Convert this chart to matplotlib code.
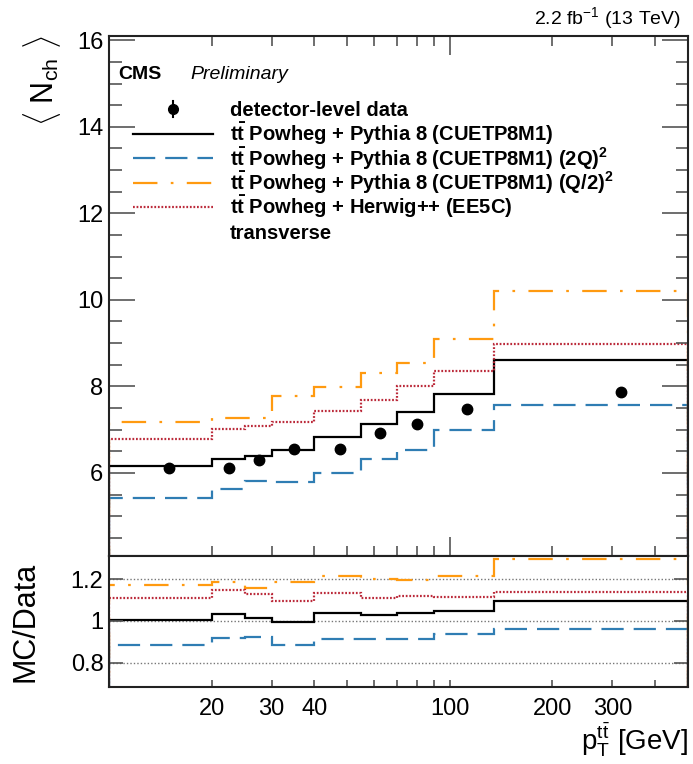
import numpy as np
import matplotlib.pyplot as plt
from matplotlib.ticker import FixedLocator, NullFormatter

plt.rcParams['font.family'] = ['Liberation Sans', 'DejaVu Sans']
plt.rcParams['mathtext.fontset'] = 'custom'
plt.rcParams['mathtext.rm'] = 'Liberation Sans'
plt.rcParams['mathtext.it'] = 'Liberation Sans:italic'
plt.rcParams['mathtext.bf'] = 'Liberation Sans:bold'

# bin edges in pT(ttbar) [GeV]
edges = [10, 20, 25, 30, 40, 55, 70, 90, 135, 500]

# <N_ch> in the transverse region
data = [6.12, 6.12, 6.29, 6.55, 6.56, 6.93, 7.14, 7.48, 7.88]
data_err = [0.03, 0.03, 0.03, 0.03, 0.03, 0.03, 0.03, 0.03, 0.03]
pythia = [6.15, 6.33, 6.39, 6.53, 6.82, 7.12, 7.40, 7.82, 8.62]
pythia_2q = [5.42, 5.63, 5.82, 5.80, 6.00, 6.32, 6.52, 7.00, 7.56]
pythia_q2 = [7.17, 7.27, 7.28, 7.78, 7.98, 8.31, 8.55, 9.10, 10.20]
herwig = [6.78, 7.02, 7.09, 7.17, 7.42, 7.68, 8.00, 8.35, 8.98]

edges = np.array(edges)
centers = 0.5 * (edges[:-1] + edges[1:])
data = np.array(data)

tt = r'$\mathbf{t\bar{t}}$'
models = [
    (pythia, '#000000', '-', tt + ' Powheg + Pythia 8 (CUETP8M1)'),
    (pythia_2q, '#2f7db3', (0, (10, 4.5)), tt + r' Powheg + Pythia 8 (CUETP8M1) (2Q)$^{\mathbf{2}}$'),
    (pythia_q2, '#ff9a10', (0, (11, 6, 1.2, 6)), tt + r' Powheg + Pythia 8 (CUETP8M1) (Q/2)$^{\mathbf{2}}$'),
    (herwig, '#bb2a3a', (0, (0.8, 0.8)), tt + ' Powheg + Herwig++ (EE5C)'),
]

fig = plt.figure(figsize=(6.93, 7.64), dpi=100)
ax = fig.add_axes([0.1573, 0.2723, 0.8355, 0.6806])
rax = fig.add_axes([0.1573, 0.1008, 0.8355, 0.1715])

# main panel
ax.errorbar(centers, data, yerr=data_err, fmt='o', color='black',
            markersize=7.5, elinewidth=1.5, capsize=0, zorder=5)
for vals, col, ls, lab in models:
    ax.stairs(vals, edges, baseline=0, color=col, linestyle=ls, linewidth=1.6)

ax.set_xscale('log')
ax.set_xlim(10, 500)
ax.set_ylim(4.08, 16.1)
ax.yaxis.set_major_locator(FixedLocator([6, 8, 10, 12, 14, 16]))
ax.yaxis.set_minor_locator(FixedLocator(np.arange(4.5, 16.1, 0.5)))
ax.xaxis.set_major_locator(FixedLocator([100]))
ax.xaxis.set_minor_locator(FixedLocator([20, 30, 40, 50, 60, 70, 80, 90, 200, 300, 400]))
ax.xaxis.set_major_formatter(NullFormatter())
ax.xaxis.set_minor_formatter(NullFormatter())
ax.tick_params(axis='y', which='major', length=19, labelsize=17, pad=4)
ax.tick_params(axis='y', which='minor', length=9)
ax.tick_params(axis='x', which='major', length=14)
ax.tick_params(axis='x', which='minor', length=7)
ax.tick_params(which='both', direction='in', top=True, right=True,
               color='#555555', width=1.2)

ax.set_ylabel(r'$\langle\ \mathrm{N}_{\mathrm{ch}}\ \rangle$', fontsize=22,
              loc='top', labelpad=10)

# legend, drawn row by row
rows = [0.8596, 0.8115, 0.7644, 0.7173, 0.6702, 0.6231]
hx0, hx1, tx = 0.0415, 0.18, 0.209
fs = 14.5
ax.plot([0.5 * (hx0 + hx1)], [rows[0]], 'o', color='black', markersize=7,
        transform=ax.transAxes)
ax.plot([0.5 * (hx0 + hx1)] * 2, [rows[0] - 0.016, rows[0] + 0.016],
        color='black', linewidth=1.5, transform=ax.transAxes)
ax.text(tx, rows[0] - 0.0135, 'detector-level data', transform=ax.transAxes,
        fontsize=fs, fontweight='bold', va='baseline')
for (vals, col, ls, lab), y in zip(models, rows[1:5]):
    ax.plot([hx0, hx1], [y, y], color=col, linestyle=ls, linewidth=1.6,
            transform=ax.transAxes)
    ax.text(tx, y - 0.0135, lab, transform=ax.transAxes, fontsize=fs,
            fontweight='bold', va='baseline')
ax.text(tx, rows[5] - 0.0135, 'transverse', transform=ax.transAxes,
        fontsize=fs, fontweight='bold', va='baseline')

ax.text(0.016, 0.925, 'CMS', transform=ax.transAxes, fontsize=14,
        fontweight='bold', va='center')
ax.text(0.14, 0.925, 'Preliminary', transform=ax.transAxes, fontsize=14,
        style='italic', va='center')
fig.text(0.983, 0.969, r'2.2 fb$^{-1}$ (13 TeV)', fontsize=14,
         ha='right', va='baseline')

# ratio panel
for vals, col, ls, lab in models:
    rax.stairs(np.array(vals) / data, edges, baseline=0, color=col,
               linestyle=ls, linewidth=1.6)
for yv in [0.8, 1.0, 1.2]:
    rax.axhline(yv, color='#777777', linestyle=(0, (1, 1.5)), linewidth=1.0, zorder=0)

rax.set_xscale('log')
rax.set_xlim(10, 500)
rax.set_ylim(0.685, 1.31)
rax.yaxis.set_major_locator(FixedLocator([0.8, 1.0, 1.2]))
rax.set_yticklabels(['0.8', '1', '1.2'])
rax.xaxis.set_major_locator(FixedLocator([20, 30, 40, 100, 200, 300]))
rax.xaxis.set_minor_locator(FixedLocator([50, 60, 70, 80, 90, 400]))
rax.set_xticklabels(['20', '30', '40', '100', '200', '300'])
rax.xaxis.set_minor_formatter(NullFormatter())
rax.tick_params(axis='y', which='major', length=10, labelsize=17, pad=4)
rax.tick_params(axis='x', which='both', length=5, labelsize=17, pad=8)
rax.tick_params(which='both', direction='in', top=False, right=True,
                color='#555555', width=1.2)
rax.set_ylabel('MC/Data', fontsize=22)
rax.yaxis.set_label_coords(-0.118, 0.5)
rax.set_xlabel(r'p$_{\mathrm{T}}^{\mathrm{t\bar{t}}}$ [GeV]', fontsize=20,
               loc='right', labelpad=0)

for a in (ax, rax):
    for s in a.spines.values():
        s.set_linewidth(1.5)
        s.set_color('#222222')

fig.savefig('out.png', dpi=100)
